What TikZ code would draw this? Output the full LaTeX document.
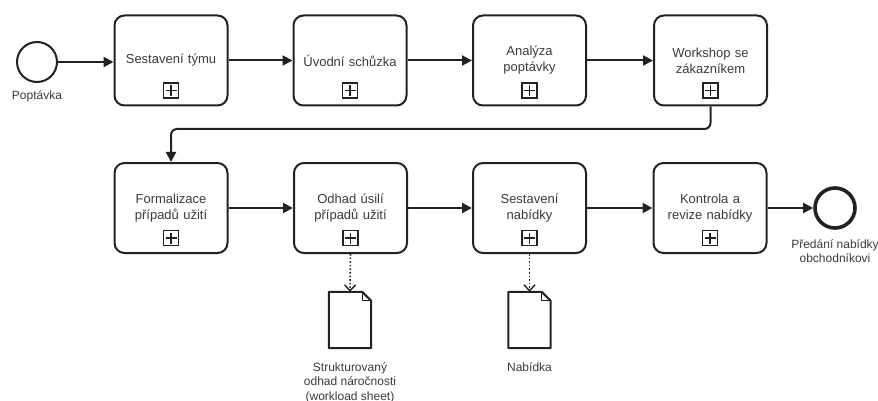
\documentclass[tikz,border=0pt]{standalone}
\usepackage{fontspec}
\setmainfont{Liberation Sans}
\usetikzlibrary{arrows.meta}

\definecolor{ink}{HTML}{222222}
\definecolor{txt}{HTML}{3A3A3A}

\tikzset{
  task/.style={draw=ink, line width=2pt, rounded corners=10pt,
    minimum width=113pt, minimum height=90pt, align=center,
    text width=106pt, text=txt, font=\fontsize{13}{16}\selectfont},
  startev/.style={circle, draw=ink, line width=2pt, minimum size=40pt, inner sep=0pt},
  endev/.style={circle, draw=ink, line width=3.6pt, minimum size=40pt, inner sep=0pt},
  docnode/.style={minimum width=42pt, minimum height=56pt, inner sep=0pt},
  lbl/.style={align=center, text=txt, font=\fontsize{12}{14.5}\selectfont, inner sep=0pt},
  flow/.style={draw=ink, line width=2pt, -{Triangle[length=10pt,width=10pt]}},
  assoc/.style={draw=ink, line width=1.6pt, dotted,
    -{Straight Barb[length=6pt,width=11pt,line width=1.4pt, sep=0pt]}},
  subproc/.pic={
    \draw[ink, line width=1.5pt] (-7.5,-7.5) rectangle (7.5,7.5);
    \draw[ink, line width=1.5pt] (0,-5.5) -- (0,5.5) (-5.5,0) -- (5.5,0);
  }
}

\begin{document}
\begin{tikzpicture}[x=1pt, y=-1pt]
  \useasboundingbox (0,0) rectangle (878,401);

  % start event
  \node[startev] (s) at (37,62) {};
  \node[lbl, anchor=north] (slbl) at (37,90) {Poptávka};

  % first row of sub-processes
  \node[task] (t1) at (171,60.5) {Sestavení týmu};
  \node[task] (t2) at (350,60.5) {Úvodní schůzka};
  \node[task] (t3) at (529.5,60.5) {Analýza\\poptávky};
  \node[task] (t4) at (710.5,60.5) {Workshop se\\zákazníkem};

  % second row of sub-processes
  \node[task] (t5) at (171,208) {Formalizace\\případů užití};
  \node[task] (t6) at (350.5,208) {Odhad úsilí\\případů užití};
  \node[task] (t7) at (529.5,208) {Sestavení\\nabídky};
  \node[task] (t8) at (710,208) {Kontrola a\\revize nabídky};

  % collapsed sub-process markers
  \foreach \t in {t1,t2,t3,t4,t5,t6,t7,t8}
    \pic at ([yshift=-30pt]\t.center) {subproc};

  % end event
  \node[endev] (e) at (835,208) {};
  \node[lbl, anchor=north] (elbl) at (835,239) {Předání nabídky\\obchodníkovi};

  % data objects
  \foreach \d/\x in {d1/350, d2/529.5} {
    \node[docnode] (\d) at (\x,320) {};
    \draw[ink, line width=2pt, line join=round]
      (\d.north west) -- ([xshift=-9pt]\d.north east) -- ([yshift=-9pt]\d.north east)
      -- (\d.south east) -- (\d.south west) -- cycle;
    \draw[ink, line width=1.2pt, line join=round]
      ([xshift=-9pt]\d.north east) -- ([xshift=-9pt,yshift=-9pt]\d.north east)
      -- ([yshift=-9pt]\d.north east);
  }
  \node[lbl, anchor=north] (d1lbl) at (350,362) {Strukturovaný\\odhad náročnosti\\(workload sheet)};
  \node[lbl, anchor=north] (d2lbl) at (529.5,362) {Nabídka};

  % sequence flows
  \draw[flow] (s.east) -- (t1.west |- s.east);
  \draw[flow] (t1) -- (t2);
  \draw[flow] (t2) -- (t3);
  \draw[flow] (t3) -- (t4);
  \coordinate (bend) at (440,129);
  \draw[flow, rounded corners=6pt] (t4.south) |- (bend) -| (t5.north);
  \draw[flow] (t5) -- (t6);
  \draw[flow] (t6) -- (t7);
  \draw[flow] (t7) -- (t8);
  \draw[flow] (t8) -- (e);

  % data associations
  \draw[assoc] (t6.south) -- (d1.north);
  \draw[assoc] (t7.south) -- (d2.north);
\end{tikzpicture}
\end{document}
